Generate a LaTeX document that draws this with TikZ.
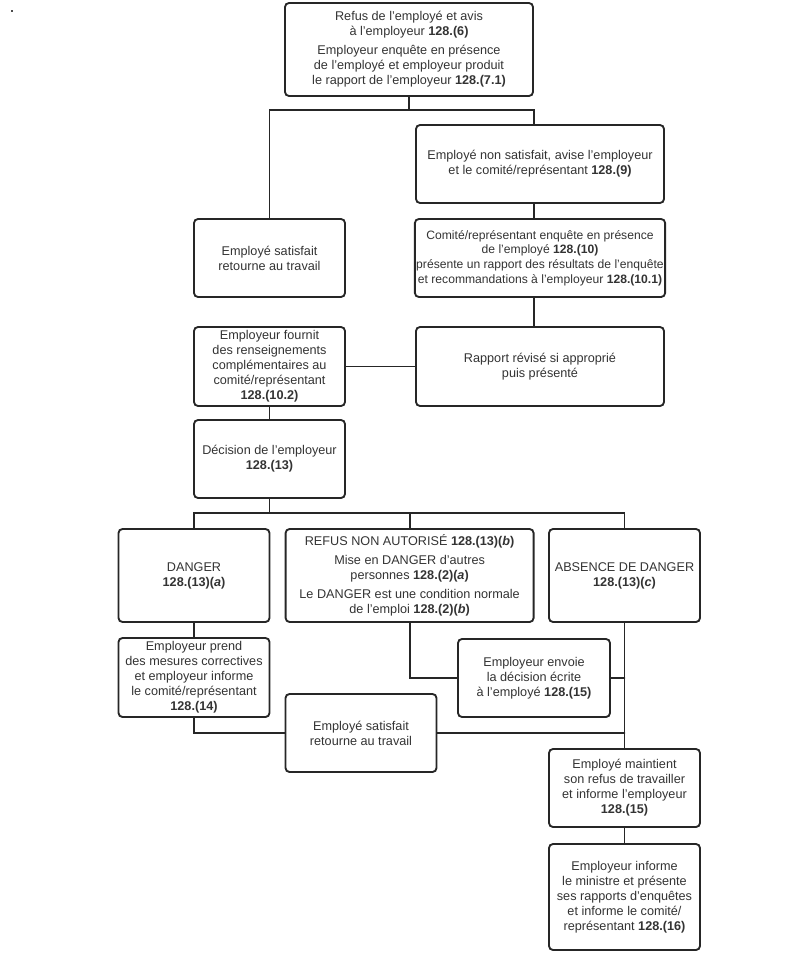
\documentclass[tikz,border=0pt]{standalone}
\usepackage{fontspec}
\setmainfont{Liberation Sans}
\begin{document}
\begin{tikzpicture}[x=0.75pt, y=-0.75pt, line cap=round,
    box/.style={draw=black!85, line width=1.4pt, rounded corners=3pt,
                align=center, inner sep=1pt, text=black!80,
                font=\fontsize{9.5pt}{11.3pt}\selectfont},
    wide/.style={minimum width=186pt},
    narrow/.style={minimum width=113.25pt},
    link/.style={draw=black!85, line width=1.4pt}
  ]
\useasboundingbox (0,0) rectangle (806,960);
\fill [black!70] (11,10) rectangle (13,12);

\node [box, wide, minimum height=69.75pt] (refus) at (409,49.5)
  {Refus de l’employé et avis\\ à l’employeur \textbf{128.(6)}\\[3pt]
   Employeur enquête en présence\\ de l’employé et employeur produit\\
   le rapport de l’employeur \textbf{128.(7.1)}};
\node [box, wide, minimum height=58.5pt] (nonsat) at (540,164)
  {Employé non satisfait, avise l’employeur\\
   et le comité/représentant \textbf{128.(9)}};
\node [box, narrow, minimum height=58.5pt] (sat) at (269.5,258)
  {Employé satisfait\\ retourne au travail};
\node [box, wide, minimum height=58.5pt, font=\fontsize{9.1pt}{11pt}\selectfont]
  (comite) at (540,258)
  {Comité/représentant enquête en présence\\ de l’employé \textbf{128.(10)}\\
   présente un rapport des résultats de l’enquête\\
   et recommandations à l’employeur \textbf{128.(10.1)}};
\node [box, narrow, minimum height=59.25pt] (fournit) at (269.5,366.5)
  {Employeur fournit\\ des renseignements\\ complémentaires au\\
   comité/représentant\\ \textbf{128.(10.2)}};
\node [box, wide, minimum height=59.25pt] (revise) at (540,366.5)
  {Rapport révisé si approprié\\ puis présenté};
\node [box, narrow, minimum height=58.5pt] (decision) at (269.5,459)
  {Décision de l’employeur\\ \textbf{128.(13)}};

\node [box, narrow, minimum height=69.75pt] (danger) at (194,575.5)
  {DANGER\\ \textbf{128.(13)(\textit{a})}};
\node [box, wide, minimum height=69.75pt] (nonaut) at (409.6,575.5)
  {REFUS NON AUTORISÉ \textbf{128.(13)(\textit{b})}\\[3pt]
   Mise en DANGER d’autres\\ personnes \textbf{128.(2)(\textit{a})}\\[3pt]
   Le DANGER est une condition normale\\ de l’emploi \textbf{128.(2)(\textit{b})}};
\node [box, narrow, minimum height=69.75pt] (absence) at (624.5,575.5)
  {ABSENCE DE DANGER\\ \textbf{128.(13)(\textit{c})}};

\node [box, narrow, minimum height=59.25pt] (mesures) at (194,677.5)
  {Employeur prend\\ des mesures correctives\\ et employeur informe\\
   le comité/représentant\\ \textbf{128.(14)}};
\node [box, minimum width=114pt, minimum height=58.5pt] (envoie) at (534,678)
  {Employeur envoie\\ la décision écrite\\ à l’employé \textbf{128.(15)}};
\node [box, narrow, minimum height=58.5pt] (retour) at (361,733)
  {Employé satisfait\\ retourne au travail};
\node [box, narrow, minimum height=58.5pt] (maintient) at (624.5,788)
  {Employé maintient\\ son refus de travailler\\ et informe l’employeur\\
   \textbf{128.(15)}};
\node [box, narrow, minimum height=79.5pt] (ministre) at (624.5,897)
  {Employeur informe\\ le ministre et présente\\ ses rapports d’enquêtes\\
   et informe le comité/\\ représentant \textbf{128.(16)}};

\coordinate (bar1) at (409,110);
\coordinate (bar2) at (269.5,513);

\draw [link] (refus.south) -- (bar1);
\draw [link] (sat.north) |- (bar1) -| (refus.east |- nonsat.north);
\draw [link] (refus.east |- nonsat.south) -- (refus.east |- comite.north);
\draw [link] (refus.east |- comite.south) -- (refus.east |- revise.north);
\draw [link] (fournit.east) -- (revise.west);
\draw [link] (fournit.south) -- (decision.north);
\draw [link] (decision.south) -- (bar2);
\draw [link] (danger.north) |- (bar2) -| (absence.north);
\draw [link] (nonaut.north) -- (nonaut.north |- bar2);
\draw [link] (danger.south) -- (mesures.north);
\draw [link] (mesures.south) |- (retour.west);
\draw [link] (nonaut.south) |- (envoie.west);
\draw [link] (absence.south) -- (maintient.north);
\draw [link] (envoie.east) -- (envoie.east -| absence.south);
\draw [link] (retour.east) -- (retour.east -| absence.south);
\draw [link] (maintient.south) -- (ministre.north);
\end{tikzpicture}
\end{document}
